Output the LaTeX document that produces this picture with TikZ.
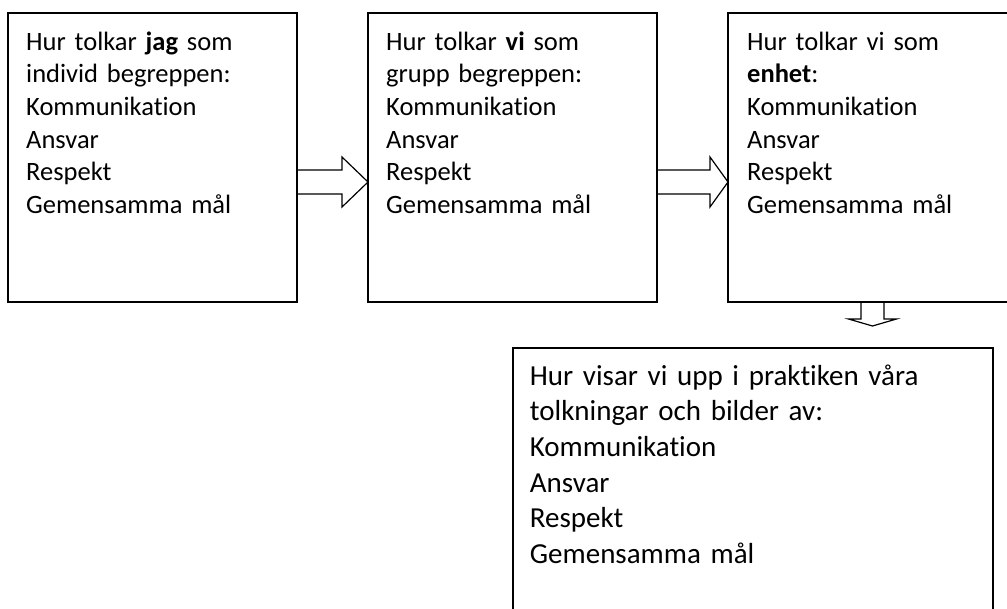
\documentclass[tikz,border=0pt]{standalone}
\usepackage{fontspec}
\setmainfont{Carlito}[Ligatures={TeX,NoCommon}]
\usepackage{tikz}
\usetikzlibrary{calc, positioning}

\begin{document}
\begin{tikzpicture}[x=1pt, y=-1pt,
  box/.style={draw, line width=1.8pt, inner sep=0pt, outer sep=0pt, anchor=north west,
    minimum width=289pt, minimum height=289pt},
  txt/.style={anchor=north west, inner sep=0pt, text width=265pt, align=left,
    font=\fontsize{26.5}{32.6}\selectfont},
  blockright/.style={line width=1.2pt, line join=miter,
    to path={($(\tikztostart)+(0,-12)$) -- ($(\tikztotarget)+(-#1,-12)$)
      -- ($(\tikztotarget)+(-#1,-25)$) -- (\tikztotarget)
      -- ($(\tikztotarget)+(-#1,25)$) -- ($(\tikztotarget)+(-#1,12)$)
      -- ($(\tikztostart)+(0,12)$)}},
  blockdown/.style={line width=1.2pt, line join=miter,
    to path={($(\tikztostart)+(-11.5,0)$) -- ($(\tikztotarget)+(-11.5,-7)$)
      -- ($(\tikztotarget)+(-24,-7)$) -- (\tikztotarget)
      -- ($(\tikztotarget)+(24,-7)$) -- ($(\tikztotarget)+(11.5,-7)$)
      -- ($(\tikztostart)+(11.5,0)$)}}]
  \useasboundingbox (0,0) rectangle (1007,608);

  % the three boxes in a row
  \node[box] (jag) at (8,13) {};
  \node[box, right=71pt of jag] (vi) {};
  \node[box, right=71pt of vi] (enhet) {};
  % the box below
  \node[box, minimum width=480pt, minimum height=272pt] (praktik) at (513,348) {};

  % texts
  \node[txt] (jagtxt) at ([xshift=18pt,yshift=-14.2pt]jag.north west)
    {\strut Hur tolkar \textbf{jag} som\\individ begreppen:\\Kommunikation\\Ansvar\\Respekt\\Gemensamma mål};
  \node[txt] (vitxt) at ([xshift=18pt,yshift=-14.2pt]vi.north west)
    {\strut Hur tolkar \textbf{vi} som\\grupp begreppen:\\Kommunikation\\Ansvar\\Respekt\\Gemensamma mål};
  \node[txt] (enhettxt) at ([xshift=19pt,yshift=-14.2pt]enhet.north west)
    {\strut Hur tolkar vi som\\\textbf{enhet}:\\Kommunikation\\Ansvar\\Respekt\\Gemensamma mål};
  \node[txt, text width=455pt, font=\fontsize{29}{35.6}\selectfont] (praktiktxt)
    at ([xshift=16.7pt,yshift=-12.1pt]praktik.north west)
    {\strut Hur visar vi upp i praktiken våra\\tolkningar och bilder av:\\Kommunikation\\Ansvar\\Respekt\\Gemensamma mål};

  % block arrows
  \coordinate (a1s) at ($(jag.east)+(0,24.5)$);
  \coordinate (a1e) at ($(vi.west)+(0,24.5)$);
  \coordinate (a2s) at ($(vi.east)+(0,24.5)$);
  \coordinate (a2e) at ($(enhet.west)+(0,24.5)$);
  \coordinate (ned) at ($(enhet.south)+(0,24)$);
  \draw[blockright=26] (a1s) to (a1e);
  \draw[blockright=18] (a2s) to (a2e);
  \draw[blockdown] (enhet.south) to (ned);
\end{tikzpicture}
\end{document}
